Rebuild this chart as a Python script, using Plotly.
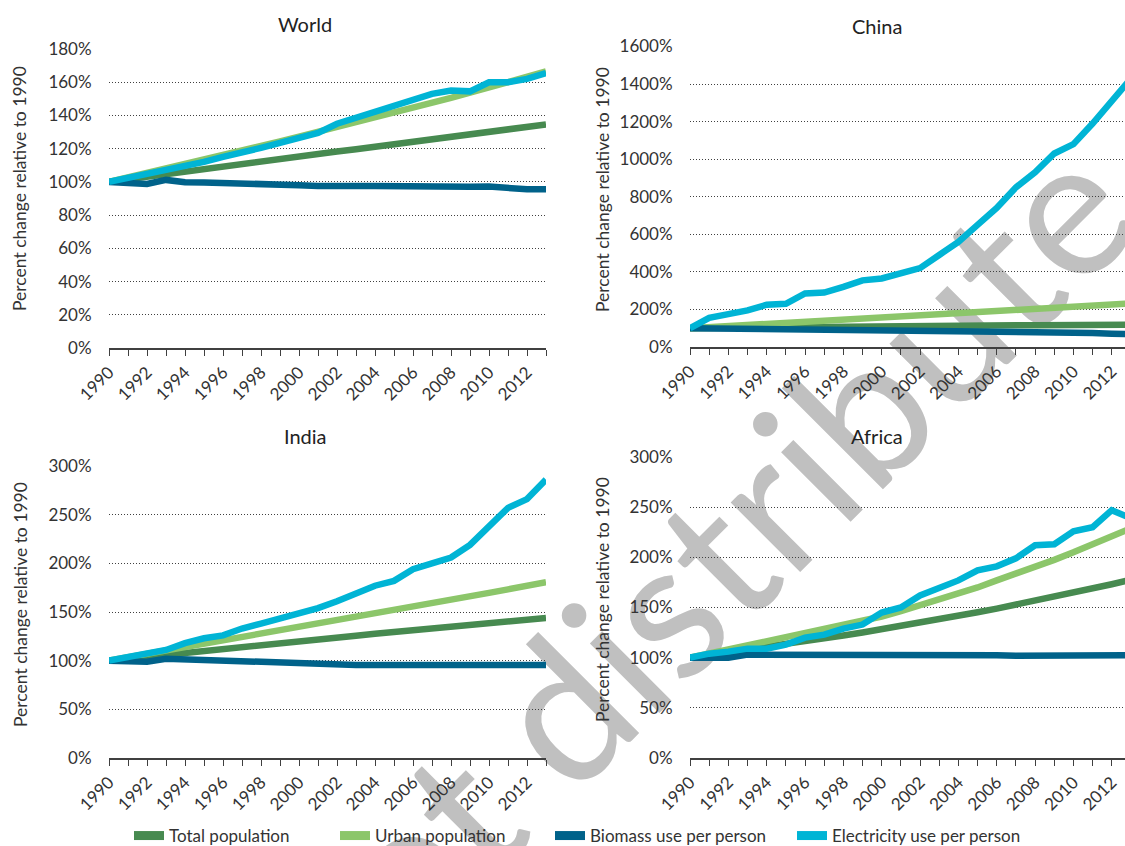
import plotly.graph_objects as go

years = list(range(1990, 2014))
tick_years = years[::2]
tick_labels = [str(y) for y in tick_years]

series_names = ["Total population", "Urban population", "Biomass use per person", "Electricity use per person"]
series_colors = ["#478a50", "#8cc66a", "#00628a", "#00b4d5"]

# World
w_total = [100, 101.6, 103.2, 104.8, 106.3, 107.9, 109.4, 110.9, 112.4, 113.9, 115.4, 116.8,
           118.3, 119.7, 121.2, 122.6, 124.1, 125.6, 127.0, 128.5, 130.0, 131.5, 133.0, 134.6]
w_urban = [100, 102.6, 105.3, 108.0, 110.7, 113.4, 116.1, 118.8, 121.6, 124.4, 127.2, 130.0,
           132.9, 135.8, 138.7, 141.6, 144.6, 147.6, 150.6, 153.7, 156.8, 159.9, 163.0, 166.5]
w_bio = [100, 99.5, 98.8, 101.2, 99.8, 99.7, 99.5, 98.8, 98.8, 98.5, 98.0, 97.5,
         97.2, 97.6, 97.6, 97.3, 97.0, 96.8, 96.8, 97.0, 97.2, 95.9, 95.5, 95.5]
w_elec = [100, 102.5, 104, 106.5, 109.5, 112, 115, 117.5, 120.5, 123.5, 127, 129.5,
          135, 138.5, 142, 146, 149, 153, 155, 154.5, 160, 160, 162, 165.5]

# China
c_total = [100, 101.4, 102.6, 103.8, 104.9, 106.0, 107.1, 108.1, 109.1, 110.0, 110.8, 111.6,
           112.3, 113.0, 113.6, 114.2, 114.8, 115.4, 115.9, 116.5, 117.0, 117.5, 118.0, 118.5]
c_urban = [100, 106, 112, 118, 124, 130, 136, 141, 147, 153, 159, 165,
           171, 176, 182, 187, 193, 198, 204, 209, 215, 220, 226, 232]
c_bio = [100, 99, 98, 97.5, 97, 96, 95.5, 95, 94, 93.5, 93, 92,
         91, 90, 89, 88, 87, 86, 85, 84, 82, 75, 71, 69]
c_elec = [100, 155, 175, 195, 225, 230, 285, 290, 320, 355, 365, 395,
          420, 490, 560, 650, 740, 850, 930, 1030, 1080, 1190, 1310, 1430]

# India
i_total = [100, 102.1, 104.1, 106.1, 108.1, 110.1, 112.1, 114.1, 116.1, 118.1, 120.0, 121.9,
           123.8, 125.7, 127.6, 129.5, 131.3, 133.1, 134.9, 136.7, 138.5, 140.2, 142.0, 143.8]
i_urban = [100, 103.4, 106.8, 110.2, 113.6, 117.0, 120.5, 124.0, 127.5, 131.0, 134.5, 138.0,
           141.5, 145.0, 148.5, 152.0, 155.5, 159.0, 162.5, 166.0, 169.6, 173.2, 176.8, 180.5]
i_bio = [100, 99.5, 99, 102, 101.2, 100.5, 99.7, 98.8, 98.0, 97.5, 97.0, 96.4,
         96.0, 95.6, 95.5, 95.5, 95.5, 95.5, 95.5, 95.5, 95.5, 95.5, 95.5, 95.5]
i_elec = [100, 104, 107, 111, 118, 123, 126, 133, 138, 143, 149, 154,
          161, 169, 177, 182, 194, 200, 206, 219, 237, 257, 266, 286]

# Africa
a_total = [100, 102.6, 105.2, 107.8, 110.5, 113.3, 116.1, 119.0, 122.0, 125.1, 128.2, 131.4,
           134.7, 138.1, 141.6, 145.2, 148.9, 152.7, 156.6, 160.6, 164.7, 168.9, 173.2, 177.6]
a_urban = [100, 104, 108, 112, 116, 120.5, 125, 129, 133, 137, 141, 146.5,
           152, 157.5, 163, 170, 177, 183.5, 190, 197.5, 205, 213, 221, 229]
a_bio = [100, 100, 100, 103, 103, 103, 103, 103, 104, 104, 103, 103,
         102.5, 102.5, 103, 102.5, 102.5, 102, 102, 102.5, 102.5, 103, 102.5, 102.5]
a_elec = [100, 104, 106, 109, 109, 113, 120, 123, 129, 133, 145, 150,
          162, 170, 177, 187, 191, 199, 212, 213, 226, 230, 247, 239]

panel_titles = ["World", "China", "India", "Africa"]
panel_data = [
    [w_total, w_urban, w_bio, w_elec],
    [c_total, c_urban, c_bio, c_elec],
    [i_total, i_urban, i_bio, i_elec],
    [a_total, a_urban, a_bio, a_elec],
]
y_ticks = [
    list(range(0, 181, 20)),
    list(range(0, 1601, 200)),
    list(range(0, 301, 50)),
    list(range(0, 301, 50)),
]
y_tick_labels = [[f"{v}%" for v in t] for t in y_ticks]
y_title = "Percent change relative to 1990"
watermark = "Do not distribute"

W, H = 1125, 846
FONT = "Lato"
TXT = "#333333"

def px_x(v):
    return v / W

def px_y(v):
    return 1 - v / H

# pixel geometry for each panel: (x0, x1, y_top, y_bottom, x_range_end)
# right-hand panels are cut off by the page edge, just before 2013
geom = [
    (109, 546, 49, 348, 2013),
    (690, 1125, 46.5, 347, 2012.69),
    (109, 546, 466, 758, 2013),
    (690, 1125, 457, 758, 2012.69),
]
title_pos = [(305, 24), (877, 26), (305, 436), (877, 436)]
ytitle_pos = [(20, 189), (602, 190), (20, 605), (602, 600)]
legend_widths = [161, 170, 197, 200]

fig = go.Figure()
layout = dict(
    width=W, height=H,
    margin=dict(l=0, r=0, t=0, b=0, pad=0, autoexpand=False),
    paper_bgcolor="white",
    plot_bgcolor="rgba(0,0,0,0)",
    font=dict(family=FONT, color=TXT),
    showlegend=True,
    legend=dict(orientation="h", x=px_x(129), xanchor="left", y=px_y(836), yanchor="middle",
                font=dict(family=FONT, size=17, color=TXT), bgcolor="rgba(0,0,0,0)",
                traceorder="normal"),
)

annotations = []
for p in range(4):
    sfx = "" if p == 0 else str(p + 1)
    x0, x1, yt, yb, xend = geom[p]
    for s in range(4):
        fig.add_trace(go.Scatter(
            x=years, y=panel_data[p][s], mode="lines",
            name=series_names[s],
            line=dict(color=series_colors[s], width=6.5),
            showlegend=False,
            xaxis="x" + sfx, yaxis="y" + sfx,
        ))
    layout["xaxis" + sfx] = dict(
        domain=[px_x(x0), px_x(x1)], anchor="y" + sfx, range=[1990, xend],
        tickmode="array", tickvals=tick_years, ticktext=tick_labels, tickangle=-45,
        ticks="outside", ticklen=6, tickwidth=1, tickcolor="#404040",
        showline=True, linecolor="#404040", linewidth=1.5,
        showgrid=False, zeroline=False, automargin=False,
        minor=dict(tickmode="array", tickvals=years, ticks="outside", ticklen=6,
                   tickwidth=1, tickcolor="#404040", showgrid=False),
        tickfont=dict(family=FONT, size=17, color=TXT),
    )
    yt_vals = y_ticks[p]
    layout["yaxis" + sfx] = dict(
        domain=[px_y(yb), px_y(yt)], anchor="x" + sfx, range=[yt_vals[0], yt_vals[-1]],
        tickmode="array", tickvals=yt_vals, ticktext=y_tick_labels[p],
        showgrid=True, gridcolor="#404040", gridwidth=1, griddash="1px,2px",
        zeroline=False, showline=False, automargin=False,
        ticks="outside", ticklen=13, tickcolor="rgba(0,0,0,0)",
        tickfont=dict(family=FONT, size=17, color=TXT),
    )
    tx, ty = title_pos[p]
    annotations.append(dict(text=panel_titles[p], x=px_x(tx), y=px_y(ty), xref="paper", yref="paper",
                            xanchor="center", yanchor="middle", showarrow=False,
                            font=dict(family=FONT, size=20, color="#222222")))
    ax, ay = ytitle_pos[p]
    annotations.append(dict(text=y_title, x=px_x(ax), y=px_y(ay), xref="paper", yref="paper",
                            xanchor="center", yanchor="middle", showarrow=False, textangle=-90,
                            font=dict(family=FONT, size=17.5, color=TXT)))

# legend entries (thicker key lines, as in the reference legend)
for s in range(4):
    fig.add_trace(go.Scatter(
        x=[None], y=[None], mode="lines", name=series_names[s],
        line=dict(color=series_colors[s], width=9),
        showlegend=True, legendwidth=legend_widths[s], hoverinfo="skip",
    ))

layout["annotations"] = annotations
layout["shapes"] = [dict(
    type="rect", xref="paper", yref="paper", layer="below",
    x0=px_x(568), x1=px_x(588), y0=px_y(694), y1=px_y(674),
    line=dict(width=0), fillcolor="rgba(0,0,0,0)",
    label=dict(text=watermark, textangle=-45, textposition="middle center",
               font=dict(family=FONT, size=194, color="#c0c0c0")),
)]
fig.update_layout(**layout)
fig.write_html("out.html")
